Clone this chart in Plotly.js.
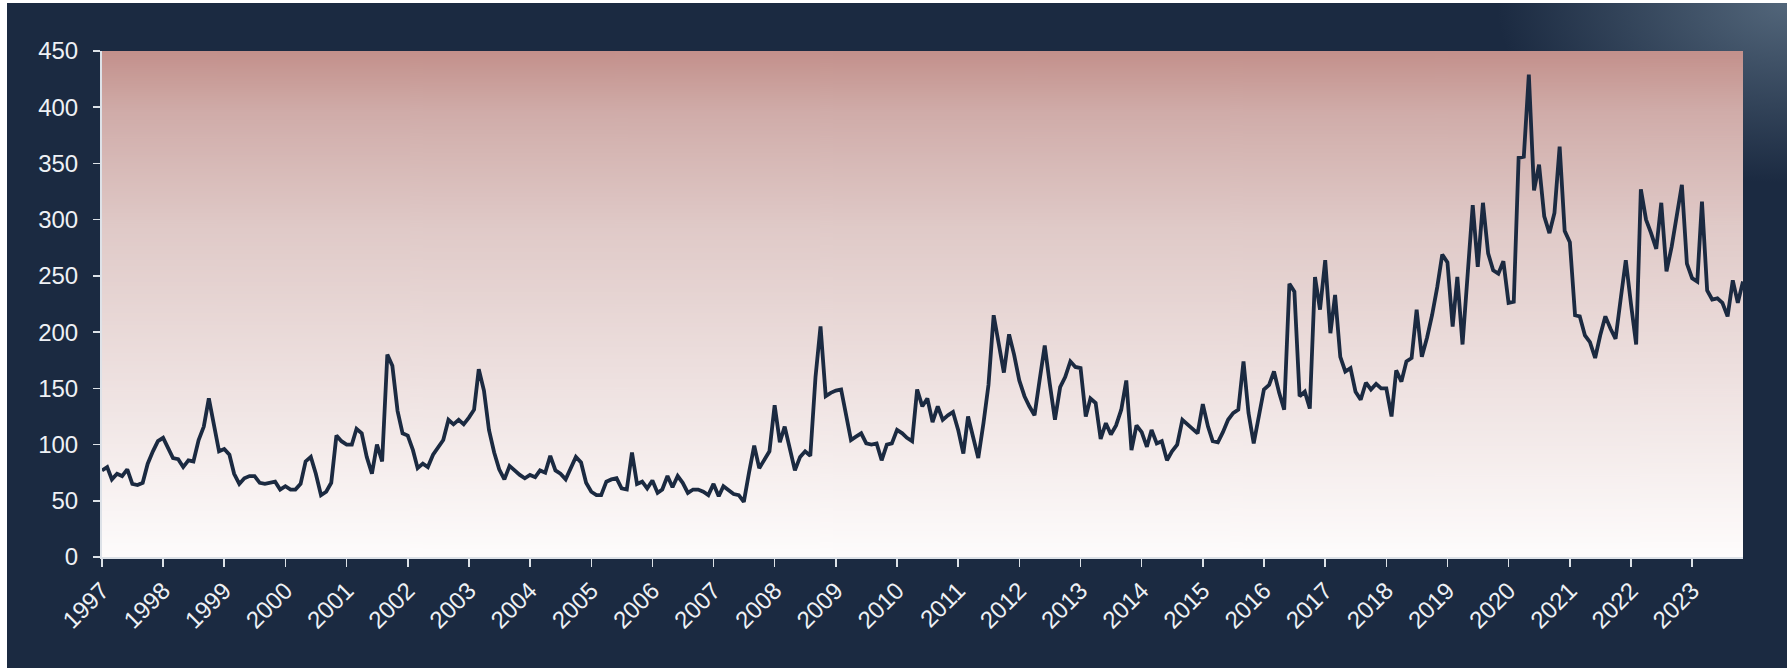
<!DOCTYPE html>
<html>
<head>
<meta charset="utf-8">
<script src="https://cdn.plot.ly/plotly-3.0.1.min.js"></script>
<style>
  html, body { margin: 0; padding: 0; background: #ffffff; width: 1787px; height: 671px; overflow: hidden; }
  #frame {
    position: absolute; left: 7px; top: 3px; width: 1780px; height: 665px;
    background:
      radial-gradient(ellipse 290px 180px at 100% 0%, rgba(88,108,128,0.9) 0%, rgba(27,42,65,0) 100%),
      #1b2a41;
  }
  #chart { position: absolute; left: 0; top: 0; width: 1780px; height: 665px; }
</style>
</head>
<body>
<div id="frame"><div id="chart"></div></div>
<script>
// Monthly values, January 1997 to November 2023 (one row per year)
const years = [1997,1998,1999,2000,2001,2002,2003,2004,2005,2006,2007,2008,2009,2010,
               2011,2012,2013,2014,2015,2016,2017,2018,2019,2020,2021,2022,2023];
const monthlyValues = [
  [77, 80, 69, 74, 72, 78, 65, 64, 66, 83, 94, 103],
  [106, 97, 88, 87, 80, 86, 85, 104, 116, 141, 119, 94],
  [96, 91, 74, 65, 70, 72, 72, 66, 65, 66, 67, 60],
  [63, 60, 60, 65, 85, 89, 74, 55, 58, 66, 108, 103],
  [100, 100, 114, 110, 89, 74, 100, 85, 180, 170, 130, 110],
  [108, 95, 79, 83, 80, 91, 98, 104, 122, 118, 122, 118],
  [124, 131, 167, 148, 113, 93, 78, 69, 81, 77, 73, 70],
  [73, 71, 77, 75, 90, 77, 74, 69, 79, 89, 84, 66],
  [58, 55, 55, 67, 69, 70, 61, 60, 93, 65, 67, 61],
  [68, 57, 60, 72, 62, 72, 66, 57, 60, 60, 58, 55],
  [65, 54, 63, 59, 56, 55, 49, 75, 99, 79, 86, 94],
  [135, 102, 116, 96, 77, 89, 94, 90, 160, 205, 143, 146],
  [148, 149, 128, 104, 107, 110, 101, 100, 101, 86, 100, 101],
  [113, 110, 106, 103, 149, 134, 141, 120, 134, 122, 126, 129],
  [113, 92, 125, 107, 88, 119, 153, 215, 187, 164, 198, 180],
  [157, 143, 134, 126, 157, 188, 154, 122, 151, 160, 174, 169],
  [168, 125, 141, 137, 105, 119, 109, 117, 131, 157, 95, 117],
  [111, 98, 113, 101, 103, 86, 94, 100, 122, 118, 113, 110],
  [136, 116, 103, 102, 111, 122, 128, 131, 174, 128, 101, 125],
  [149, 153, 165, 146, 131, 243, 236, 143, 147, 132, 249, 220],
  [264, 199, 233, 178, 165, 168, 147, 140, 155, 149, 154, 150],
  [150, 125, 166, 156, 174, 177, 220, 178, 195, 215, 240, 269],
  [262, 205, 249, 189, 250, 313, 258, 315, 270, 255, 252, 263],
  [226, 227, 355, 356, 429, 326, 349, 303, 288, 306, 365, 290],
  [280, 215, 214, 197, 191, 177, 197, 214, 203, 194, 230, 264],
  [225, 189, 327, 300, 288, 274, 315, 254, 276, 303, 331, 261],
  [248, 245, 316, 237, 229, 230, 226, 214, 246, 226, 245]
];
const yTickValues = [0, 50, 100, 150, 200, 250, 300, 350, 400, 450];

// Build the series
const dates = [];
const values = [];
years.forEach((y, yi) => {
  monthlyValues[yi].forEach((v, mi) => {
    dates.push(y + '-' + String(mi + 1).padStart(2, '0') + '-01');
    values.push(v);
  });
});

// Plot-area background gradient as an image
function gradientImage() {
  const c = document.createElement('canvas');
  c.width = 8; c.height = 512;
  const g = c.getContext('2d');
  const grd = g.createLinearGradient(0, 0, 0, 512);
  grd.addColorStop(0.0, '#c3908b');
  grd.addColorStop(0.12, '#d0aca9');
  grd.addColorStop(0.35, '#e0cac8');
  grd.addColorStop(0.65, '#eee1e0');
  grd.addColorStop(1.0, '#fefcfc');
  g.fillStyle = grd;
  g.fillRect(0, 0, 8, 512);
  return c.toDataURL('image/png');
}

const axisColor = '#dde2e8';
const tickFont = { family: 'Liberation Sans, Arial, sans-serif', size: 24, color: '#eef1f5' };

const trace = {
  type: 'scatter', mode: 'lines',
  x: dates, y: values,
  line: { color: '#1b2a41', width: 3.8 },
  hoverinfo: 'x+y'
};

const layout = {
  width: 1780, height: 665,
  margin: { l: 95, r: 44, t: 48, b: 111, pad: 0 },
  paper_bgcolor: 'rgba(0,0,0,0)',
  plot_bgcolor: 'rgba(0,0,0,0)',
  showlegend: false,
  images: [{
    source: gradientImage(), xref: 'paper', yref: 'paper',
    x: 0, y: 1, sizex: 1, sizey: 1, xanchor: 'left', yanchor: 'top',
    sizing: 'stretch', layer: 'below'
  }],
  xaxis: {
    type: 'date', autorange: true,
    tick0: '1997-01-01', dtick: 'M12', tickformat: '%Y', tickangle: -45,
    ticks: 'outside', ticklen: 8, tickwidth: 1.5, tickcolor: axisColor,
    showline: true, linecolor: axisColor, linewidth: 2,
    showgrid: false, zeroline: false, tickfont: tickFont
  },
  yaxis: {
    range: [0, 450], tickvals: yTickValues,
    ticks: 'outside', ticklen: 7, tickwidth: 1.5, tickcolor: axisColor,
    ticklabelstandoff: 10,
    showline: true, linecolor: axisColor, linewidth: 2,
    showgrid: false, zeroline: false, tickfont: tickFont
  }
};

Plotly.newPlot('chart', [trace], layout, { displayModeBar: false, staticPlot: true });
</script>
</body>
</html>
